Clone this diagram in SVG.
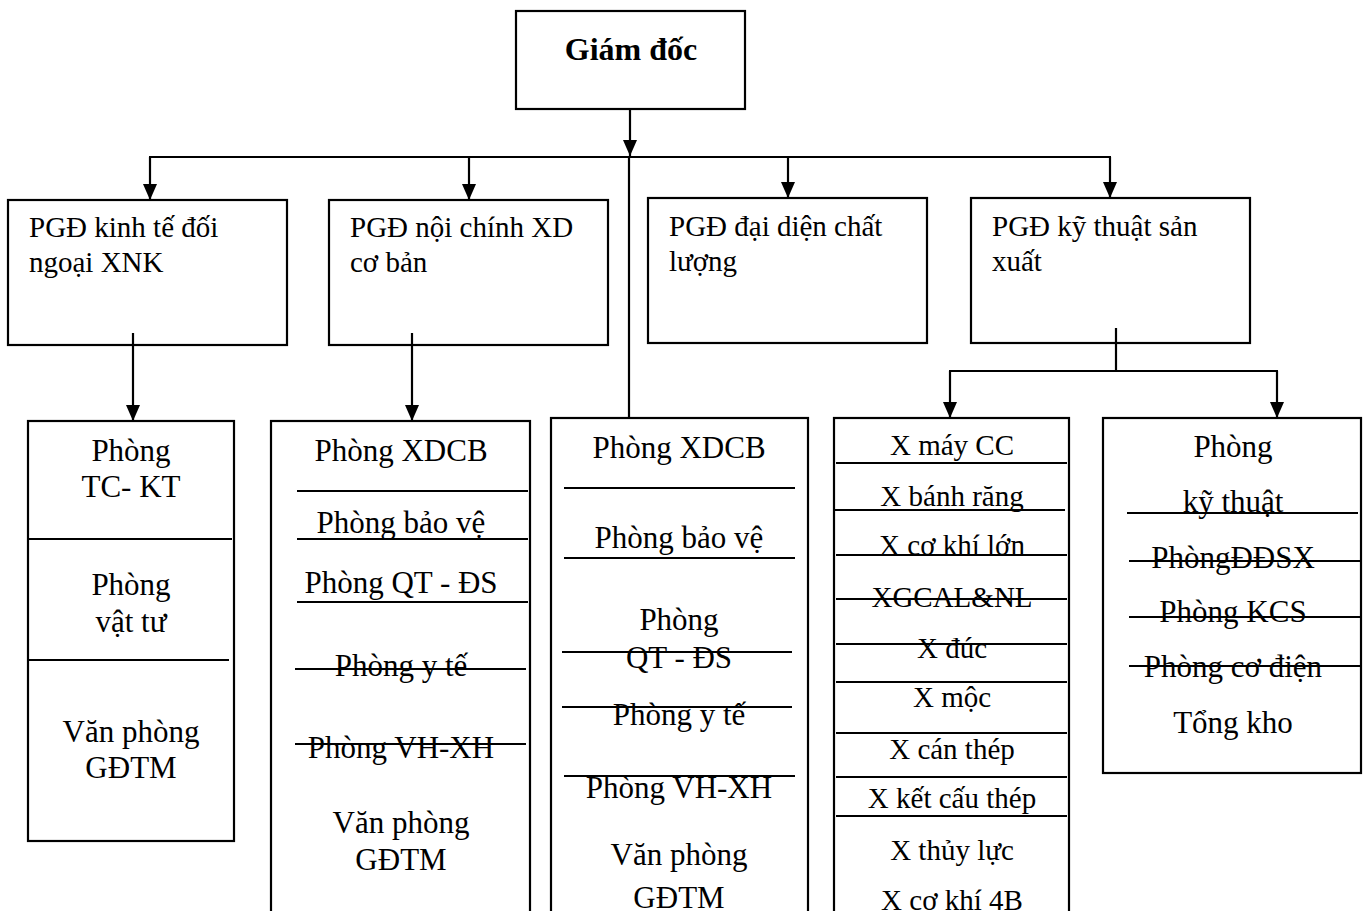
<svg xmlns="http://www.w3.org/2000/svg" width="1364" height="911" viewBox="0 0 1364 911">
<style>
.box{fill:#fff;stroke:#000;stroke-width:2.2}
.ln{stroke:#000;stroke-width:2.2;fill:none}
.div{stroke:#000;stroke-width:2}
text{font-family:"Liberation Serif","Times New Roman",serif;fill:#000}
.h{font-size:29px}
.b{font-size:31px;text-anchor:middle}
.d{font-size:29px;text-anchor:middle}
</style>
<defs>
<marker id="ar" markerUnits="userSpaceOnUse" markerWidth="16" markerHeight="14" viewBox="0 0 16 14" refX="16" refY="7" orient="auto">
<path d="M0,0 L16,7 L0,14 Z" fill="#000"/>
</marker>
</defs>
<rect width="1364" height="911" fill="#fff"/>

<g id="giam-doc">
<rect class="box" x="516" y="11" width="229" height="98"/>
<text x="631" y="60" font-size="32" font-weight="bold" text-anchor="middle">Giám đốc</text>
</g>

<g id="pgd-kinh-te">
<rect class="box" x="8" y="200" width="279" height="145"/>
<text class="h" x="29" y="237">PGĐ kinh tế đối</text>
<text class="h" x="29" y="272">ngoại XNK</text>
</g>

<g id="pgd-noi-chinh">
<rect class="box" x="329" y="200" width="279" height="145"/>
<text class="h" x="350" y="237">PGĐ nội chính XD</text>
<text class="h" x="350" y="272">cơ bản</text>
</g>

<g id="pgd-dai-dien">
<rect class="box" x="648" y="198" width="279" height="145"/>
<text class="h" x="669" y="236">PGĐ đại diện chất</text>
<text class="h" x="669" y="271">lượng</text>
</g>

<g id="pgd-ky-thuat">
<rect class="box" x="971" y="198" width="279" height="145"/>
<text class="h" x="992" y="236">PGĐ kỹ thuật sản</text>
<text class="h" x="992" y="271">xuất</text>
</g>

<g id="col-a">
<rect class="box" x="28" y="421" width="206" height="420"/>
<line class="div" x1="28" y1="539" x2="232" y2="539"/>
<line class="div" x1="28" y1="660" x2="229" y2="660"/>
<text class="b" x="131" y="461">Phòng</text>
<text class="b" x="131" y="497">TC- KT</text>
<text class="b" x="131" y="595">Phòng</text>
<text class="b" x="131" y="632">vật tư</text>
<text class="b" x="131" y="742">Văn phòng</text>
<text class="b" x="131" y="778">GĐTM</text>
</g>

<g id="col-b">
<rect class="box" x="271" y="421" width="259" height="510"/>
<line class="div" x1="297" y1="491" x2="528" y2="491"/>
<line class="div" x1="297" y1="539" x2="528" y2="539"/>
<line class="div" x1="297" y1="602" x2="528" y2="602"/>
<line class="div" x1="295" y1="669" x2="526" y2="669"/>
<line class="div" x1="295" y1="744" x2="526" y2="744"/>
<text class="b" x="401" y="461">Phòng XDCB</text>
<text class="b" x="401" y="533">Phòng bảo vệ</text>
<text class="b" x="401" y="593">Phòng QT - ĐS</text>
<text class="b" x="401" y="676">Phòng y tế</text>
<text class="b" x="401" y="758">Phòng VH-XH</text>
<text class="b" x="401" y="833">Văn phòng</text>
<text class="b" x="401" y="870">GĐTM</text>
</g>

<g id="col-c">
<rect class="box" x="551" y="418" width="257" height="513"/>
<line class="div" x1="564" y1="488" x2="795" y2="488"/>
<line class="div" x1="564" y1="558" x2="795" y2="558"/>
<line class="div" x1="562" y1="652" x2="792" y2="652"/>
<line class="div" x1="562" y1="707" x2="792" y2="707"/>
<line class="div" x1="564" y1="776" x2="795" y2="776"/>
<text class="b" x="679" y="458">Phòng XDCB</text>
<text class="b" x="679" y="548">Phòng bảo vệ</text>
<text class="b" x="679" y="630">Phòng</text>
<text class="b" x="679" y="668">QT - ĐS</text>
<text class="b" x="679" y="725">Phòng y tế</text>
<text class="b" x="679" y="798">Phòng VH-XH</text>
<text class="b" x="679" y="865">Văn phòng</text>
<text class="b" x="679" y="908">GĐTM</text>
</g>

<g id="col-d">
<rect class="box" x="834" y="418" width="235" height="513"/>
<line class="div" x1="836" y1="463" x2="1067" y2="463"/>
<line class="div" x1="834" y1="510" x2="1065" y2="510"/>
<line class="div" x1="836" y1="555" x2="1067" y2="555"/>
<line class="div" x1="836" y1="599" x2="1067" y2="599"/>
<line class="div" x1="836" y1="644" x2="1067" y2="644"/>
<line class="div" x1="836" y1="682" x2="1067" y2="682"/>
<line class="div" x1="836" y1="733" x2="1067" y2="733"/>
<line class="div" x1="836" y1="777" x2="1067" y2="777"/>
<line class="div" x1="836" y1="816" x2="1067" y2="816"/>
<text class="d" x="952" y="455">X máy CC</text>
<text class="d" x="952" y="506">X bánh răng</text>
<text class="d" x="952" y="555">X cơ khí lớn</text>
<text class="d" x="952" y="607">XGCAL&amp;NL</text>
<text class="d" x="952" y="658">X đúc</text>
<text class="d" x="952" y="707">X mộc</text>
<text class="d" x="952" y="759">X cán thép</text>
<text class="d" x="952" y="808">X kết cấu thép</text>
<text class="d" x="952" y="860">X thủy lực</text>
<text class="d" x="952" y="910">X cơ khí 4B</text>
</g>

<g id="col-e">
<rect class="box" x="1103" y="418" width="258" height="355"/>
<line class="div" x1="1127" y1="513" x2="1358" y2="513"/>
<line class="div" x1="1129" y1="561" x2="1360" y2="561"/>
<line class="div" x1="1129" y1="617" x2="1360" y2="617"/>
<line class="div" x1="1129" y1="666" x2="1360" y2="666"/>
<text class="b" x="1233" y="457">Phòng</text>
<text class="b" x="1233" y="512">kỹ thuật</text>
<text class="b" x="1233" y="568">PhòngĐĐSX</text>
<text class="b" x="1233" y="622">Phòng KCS</text>
<text class="b" x="1233" y="677">Phòng cơ điện</text>
<text class="b" x="1233" y="733">Tổng kho</text>
</g>

<g id="connectors">
<line class="ln" x1="630" y1="109" x2="630" y2="156" marker-end="url(#ar)"/>
<line class="ln" x1="149" y1="157" x2="1111" y2="157"/>
<line class="ln" x1="629" y1="157" x2="629" y2="418"/>
<line class="ln" x1="150" y1="157" x2="150" y2="200" marker-end="url(#ar)"/>
<line class="ln" x1="469" y1="157" x2="469" y2="200" marker-end="url(#ar)"/>
<line class="ln" x1="788" y1="157" x2="788" y2="198" marker-end="url(#ar)"/>
<line class="ln" x1="1110" y1="157" x2="1110" y2="198" marker-end="url(#ar)"/>
<line class="ln" x1="133" y1="333" x2="133" y2="421" marker-end="url(#ar)"/>
<line class="ln" x1="412" y1="333" x2="412" y2="421" marker-end="url(#ar)"/>
<line class="ln" x1="1116" y1="328" x2="1116" y2="371"/>
<line class="ln" x1="949" y1="371" x2="1278" y2="371"/>
<line class="ln" x1="950" y1="371" x2="950" y2="418" marker-end="url(#ar)"/>
<line class="ln" x1="1277" y1="371" x2="1277" y2="418" marker-end="url(#ar)"/>
</g>
</svg>
